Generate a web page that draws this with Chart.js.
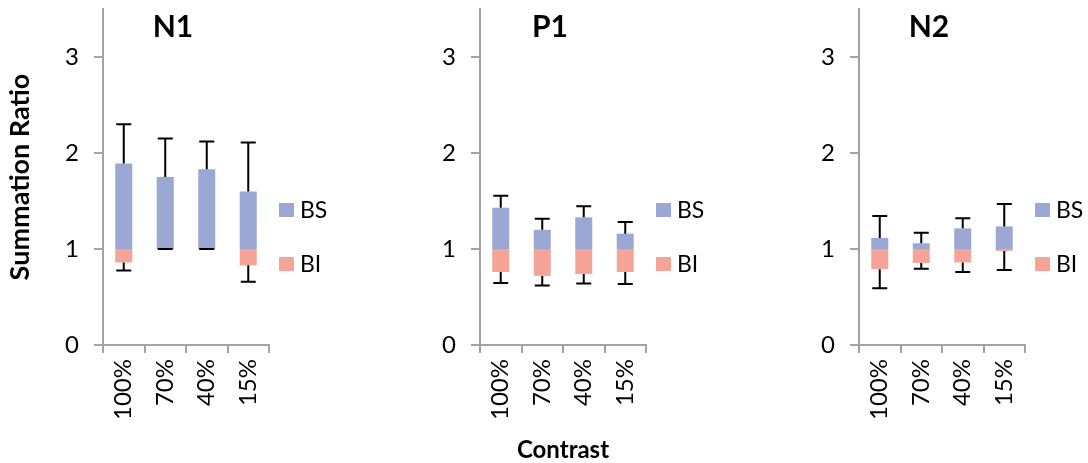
<!DOCTYPE html>
<html><head><meta charset="utf-8">
<script src="https://cdn.jsdelivr.net/npm/chart.js@4.4.1/dist/chart.umd.min.js"></script>
<style>
html,body{margin:0;padding:0;background:#fff;width:1088px;height:463px;overflow:hidden}
.p{position:absolute;top:0;height:463px}
canvas{display:block}
</style></head><body>
<div class="p" style="left:0px"><canvas id="c0" width="332" height="463"></canvas></div>
<div class="p" style="left:377px"><canvas id="c1" width="332" height="463"></canvas></div>
<div class="p" style="left:756px"><canvas id="c2" width="332" height="463"></canvas></div>
<script>
// ---- data ----
const categories = ['100%', '70%', '40%', '15%'];
const panelTitles = ['N1', 'P1', 'N2'];
const seriesLabels = ['BS', 'BI'];
const yTickValues = [0, 1, 2, 3];
const yTitle = 'Summation Ratio';
const xTitle = 'Contrast';
const baseline = 1;

const n1BS    = [1.89, 1.75, 1.83, 1.60];
const n1BSerr = [0.41, 0.40, 0.29, 0.51];
const n1BI    = [0.86, 1.00, 1.00, 0.83];
const n1BIerr = [0.085, 0.00, 0.00, 0.17];

const p1BS    = [1.43, 1.20, 1.33, 1.16];
const p1BSerr = [0.125, 0.115, 0.115, 0.12];
const p1BI    = [0.76, 0.72, 0.74, 0.76];
const p1BIerr = [0.115, 0.10, 0.10, 0.125];

const n2BS    = [1.115, 1.06, 1.215, 1.235];
const n2BSerr = [0.23, 0.11, 0.105, 0.235];
const n2BI    = [0.79, 0.855, 0.86, 0.98];
const n2BIerr = [0.20, 0.06, 0.10, 0.20];

// ---- styles ----
const FONT = 'Lato';
const AX = '#a3a3a3';
const BS_COLOR = '#9ca8d4';
const BI_COLOR = '#f6a498';

const errorBarPlugin = {
  id: 'errorBars',
  afterDatasetsDraw(chart) {
    const ctx = chart.ctx, y = chart.scales.y;
    ctx.save();
    ctx.strokeStyle = '#000';
    ctx.lineWidth = 2;
    chart.data.datasets.forEach((ds, i) => {
      const meta = chart.getDatasetMeta(i);
      meta.data.forEach((el, j) => {
        const v = ds.value[j], e = ds.errors[j];
        const end = v + ds.dir * e;
        const y0 = y.getPixelForValue(v), y1 = y.getPixelForValue(end);
        const x = el.x;
        ctx.beginPath();
        ctx.moveTo(x, y0); ctx.lineTo(x, y1);
        ctx.moveTo(x - 7.5, y1); ctx.lineTo(x + 7.5, y1);
        ctx.stroke();
      });
    });
    ctx.restore();
  }
};

const panelDecor = {
  id: 'panelDecor',
  afterDraw(chart, args, opts) {
    const ctx = chart.ctx, a = chart.chartArea;
    ctx.save();
    ctx.fillStyle = '#000';
    ctx.font = 'bold 30px ' + FONT;
    ctx.textAlign = 'center';
    ctx.textBaseline = 'middle';
    ctx.fillText(opts.title, a.left + 70, 27);
    ctx.font = '23px ' + FONT;
    ctx.textAlign = 'left';
    chart.data.datasets.forEach((ds, i) => {
      const top = a.top + 194 + i * 54;
      ctx.fillStyle = ds.backgroundColor;
      ctx.fillRect(a.right + 10, top, 15, 14);
      ctx.fillStyle = '#000';
      ctx.fillText(ds.label, a.right + 31, top + 8);
    });
    ctx.restore();
  }
};

function makeChart(id, title, bs, bsErr, bi, biErr, showY, showX) {
  return new Chart(document.getElementById(id), {
    type: 'bar',
    data: {
      labels: categories,
      datasets: [
        { label: seriesLabels[0], data: bs.map(v => [baseline, v]), value: bs, errors: bsErr, dir: 1,
          backgroundColor: BS_COLOR, grouped: false, barPercentage: 0.41, categoryPercentage: 1 },
        { label: seriesLabels[1], data: bi.map(v => [v, baseline]), value: bi, errors: biErr, dir: -1,
          backgroundColor: BI_COLOR, grouped: false, barPercentage: 0.41, categoryPercentage: 1 }
      ]
    },
    options: {
      responsive: false,
      animation: false,
      layout: { padding: { top: 9, right: 63, bottom: 0, left: 0 } },
      plugins: { legend: { display: false }, tooltip: { enabled: false }, panelDecor: { title: title } },
      scales: {
        x: {
          offset: true,
          grid: { offset: true, drawOnChartArea: false, color: AX, lineWidth: 2, tickLength: 8 },
          border: { color: AX, width: 2 },
          ticks: { color: '#000', font: { family: FONT, size: 24 }, minRotation: 90, maxRotation: 90, autoSkip: false, padding: 6 },
          title: { display: showX, text: xTitle, color: '#000', font: { family: FONT, size: 24, weight: 'bold', lineHeight: 1.1 }, padding: 0 },
          afterFit(s) { s.height = 118; s.paddingLeft = 0; s.paddingRight = 0; }
        },
        y: {
          min: 0, max: 3.5,
          afterBuildTicks(s) { s.ticks = yTickValues.map(v => ({ value: v })); },
          grid: { drawOnChartArea: false, color: AX, lineWidth: 2, tickLength: 9 },
          border: { color: AX, width: 2 },
          ticks: { color: '#000', font: { family: FONT, size: 24 }, padding: 15 },
          title: { display: showY, text: yTitle, color: '#000', font: { family: FONT, size: 27, weight: 'bold' }, padding: { top: 4, bottom: 0 } },
          afterFit(s) { s.width = 103; s.paddingTop = 0; s.paddingBottom = 0; }
        }
      }
    },
    plugins: [errorBarPlugin, panelDecor]
  });
}

makeChart('c0', panelTitles[0], n1BS, n1BSerr, n1BI, n1BIerr, true, false);
makeChart('c1', panelTitles[1], p1BS, p1BSerr, p1BI, p1BIerr, false, true);
makeChart('c2', panelTitles[2], n2BS, n2BSerr, n2BI, n2BIerr, false, false);
</script>
</body></html>
